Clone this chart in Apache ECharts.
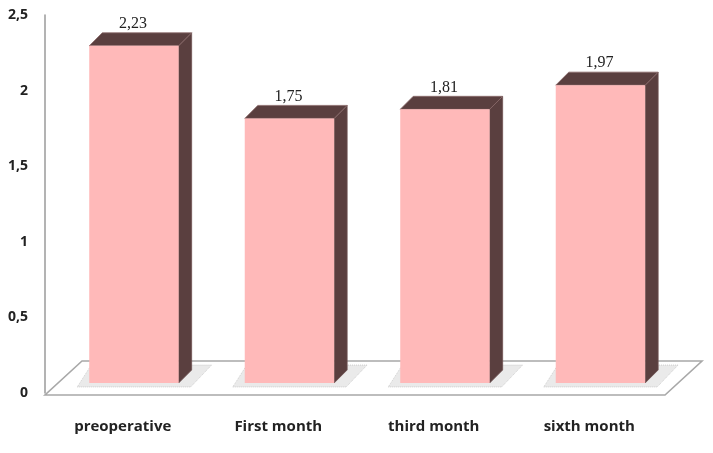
<!DOCTYPE html>
<html><head><meta charset="utf-8">
<script src="https://cdn.jsdelivr.net/npm/echarts@6/dist/echarts.min.js"></script>
<style>html,body{margin:0;padding:0;background:#fff}#c{width:713px;height:453px}</style>
</head><body><div id="c"></div>
<script>
const categories = ['preoperative', 'First month', 'third month', 'sixth month'];
const values = [2.23, 1.75, 1.81, 1.97];
const valueLabels = ['2,23', '1,75', '1,81', '1,97'];
const yMin = 0, yMax = 2.5, yStep = 0.5;

const chart = echarts.init(document.getElementById('c'));
const FRONT = '#ffb9b9', DARK = '#5a3f3f';

function floorItem(params, api) {
  const cs = params.coordSys;
  const yb = api.coord([0, 0])[1];
  const fl = cs.x, fr = cs.x + cs.width - 2;
  const fy = yb + 2, by = yb - 32, dx = 37;
  return {
    type: 'polygon', z2: 0,
    shape: { points: [[fl, fy], [fr, fy], [fr + dx, by], [fl + dx, by]] },
    style: { fill: '#fff', stroke: '#a8a8a8', lineWidth: 1.6 }
  };
}

function barItem(params, api) {
  const idx = api.value(0), v = api.value(1);
  const top = api.coord([idx, v]);
  const base = api.coord([idx, 0]);
  const band = api.size([1, 0])[0];
  const w = band * 0.575;
  const sx = band * 0.072, sy = 10, d = 13;
  const x0 = top[0] + sx - w / 2, x1 = x0 + w;
  const yT = top[1] - sy, yB = base[1] - sy;
  return {
    type: 'group',
    children: [
      { type: 'polygon', shape: { points: [[x0 - 12, yB + 4], [x1 + 12, yB + 4], [x1 + d + 20, yB - 18], [x0 + 2, yB - 18]] },
        style: { fill: 'rgba(160,160,160,0.22)', stroke: 'rgba(140,140,140,0.35)', lineWidth: 1, lineDash: [1, 1] } },
      { type: 'polygon', shape: { points: [[x1, yT], [x1 + d, yT - d], [x1 + d, yB - d], [x1, yB]] },
        style: { fill: DARK, stroke: '#6e5252', lineWidth: 0.8 } },
      { type: 'polygon', shape: { points: [[x0, yT], [x0 + d, yT - d], [x1 + d, yT - d], [x1, yT]] },
        style: { fill: DARK, stroke: '#8a6a6a', lineWidth: 0.8 } },
      { type: 'rect', shape: { x: x0, y: yT, width: w, height: yB - yT },
        style: { fill: FRONT } },
      { type: 'text', x: x0 + w / 2 - 1, y: yT - d - 1,
        style: { text: valueLabels[idx], fill: '#222', font: '16px "Liberation Serif"', align: 'center', verticalAlign: 'bottom' } }
    ]
  };
}

chart.setOption({
  animation: false,
  grid: { left: 45, right: 46, top: 15, bottom: 60 },
  xAxis: {
    type: 'category', data: categories,
    axisLine: { show: false }, axisTick: { show: false },
    axisLabel: { margin: 26, color: '#222', fontFamily: 'Open Sans', fontWeight: 'bold', fontSize: 15 }
  },
  yAxis: {
    type: 'value', min: yMin, max: yMax, interval: yStep,
    splitLine: { show: false },
    axisLine: { show: true, lineStyle: { color: '#9a9a9a', width: 1.5 } },
    axisTick: { show: false },
    axisLabel: { margin: 17, color: '#222', fontFamily: 'Open Sans', fontWeight: 'bold', fontSize: 14,
      formatter: v => String(v).replace('.', ',') }
  },
  series: [
    { type: 'custom', renderItem: floorItem, data: [[0, 0]], z: 1, silent: true },
    { type: 'custom', renderItem: barItem, z: 2,
      data: values.map((v, i) => [i, v]) }
  ]
});
</script></body></html>
